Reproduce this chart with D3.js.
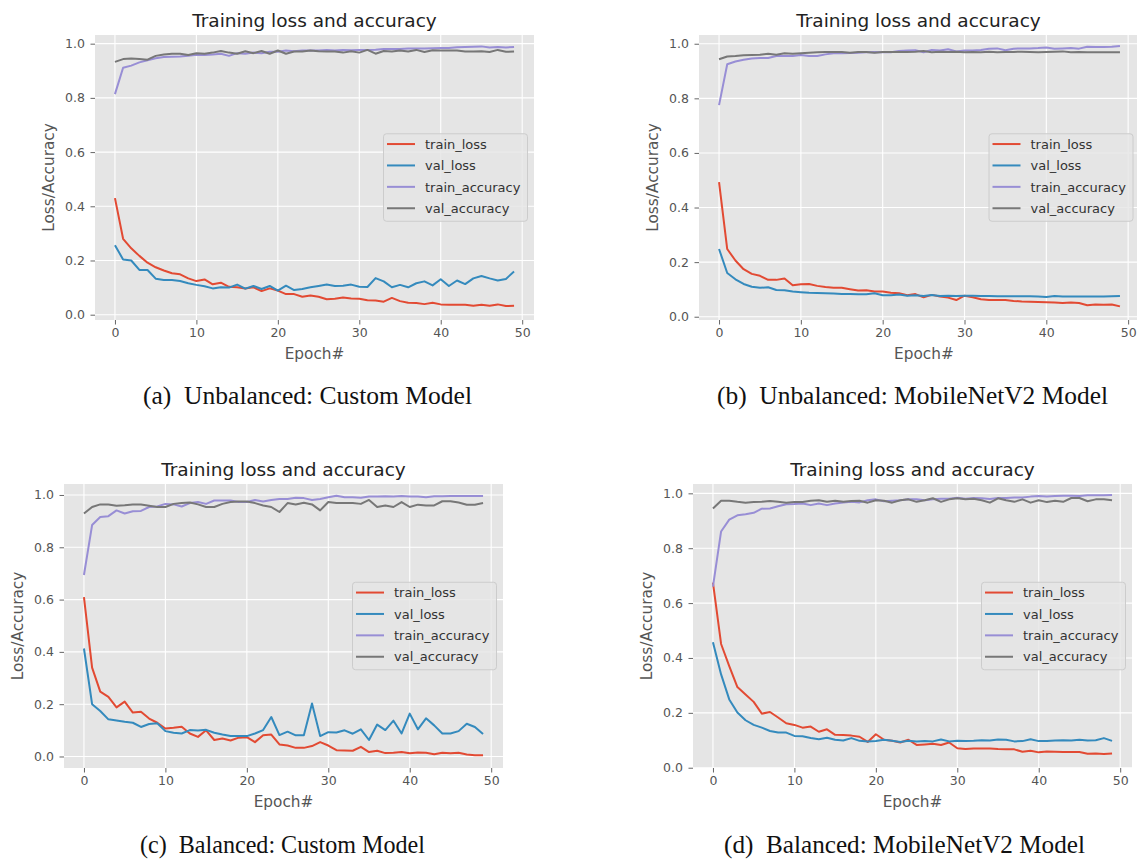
<!DOCTYPE html>
<html>
<head>
<meta charset="utf-8">
<script src="https://cdn.jsdelivr.net/npm/d3@7/dist/d3.min.js"></script>
<style>
  html, body { margin: 0; padding: 0; background: #ffffff; }
  svg { display: block; }
</style>
</head>
<body>
<svg id="chart" width="1137" height="860"></svg>
<script>
// ---------------- DATA ----------------
const seriesNames = ["train_loss", "val_loss", "train_accuracy", "val_accuracy"];
const chartTitle = "Training loss and accuracy";
const xLabel = "Epoch#";
const yLabel = "Loss/Accuracy";
const xTicks = [0, 10, 20, 30, 40, 50];
const yTicks = [0.0, 0.2, 0.4, 0.6, 0.8, 1.0];
const captions = [
  "(a)  Unbalanced: Custom Model",
  "(b)  Unbalanced: MobileNetV2 Model",
  "(c)  Balanced: Custom Model",
  "(d)  Balanced: MobileNetV2 Model"
];

// (a) Unbalanced: Custom Model
const aTrainLoss = [0.43,0.28,0.245,0.217,0.192,0.175,0.163,0.153,0.149,0.134,0.124,0.13,0.112,0.118,0.103,0.101,0.097,0.101,0.087,0.097,0.089,0.076,0.076,0.066,0.071,0.066,0.057,0.059,0.063,0.06,0.059,0.053,0.052,0.048,0.062,0.05,0.044,0.043,0.039,0.044,0.038,0.037,0.037,0.037,0.033,0.037,0.033,0.038,0.032,0.033];
const aValLoss = [0.256,0.204,0.2,0.165,0.165,0.133,0.128,0.128,0.124,0.116,0.11,0.105,0.097,0.101,0.1,0.111,0.096,0.106,0.095,0.106,0.089,0.107,0.091,0.095,0.101,0.106,0.111,0.106,0.107,0.111,0.103,0.102,0.135,0.123,0.101,0.11,0.101,0.116,0.123,0.108,0.131,0.106,0.126,0.113,0.134,0.143,0.134,0.126,0.132,0.159];
const aTrainAcc = [0.814,0.911,0.919,0.931,0.939,0.946,0.951,0.952,0.953,0.955,0.959,0.958,0.96,0.963,0.955,0.965,0.963,0.967,0.965,0.97,0.97,0.975,0.972,0.975,0.975,0.975,0.977,0.975,0.977,0.976,0.977,0.977,0.978,0.98,0.98,0.98,0.982,0.982,0.982,0.983,0.984,0.984,0.987,0.988,0.989,0.99,0.986,0.988,0.986,0.988];
const aValAcc = [0.933,0.943,0.945,0.943,0.941,0.955,0.96,0.963,0.963,0.958,0.965,0.963,0.967,0.973,0.967,0.963,0.972,0.965,0.973,0.963,0.975,0.963,0.971,0.971,0.975,0.972,0.971,0.971,0.967,0.972,0.967,0.977,0.963,0.973,0.971,0.975,0.971,0.977,0.969,0.976,0.975,0.975,0.975,0.971,0.971,0.972,0.969,0.977,0.97,0.971];

// (b) Unbalanced: MobileNetV2 Model
const bTrainLoss = [0.493,0.248,0.206,0.174,0.157,0.15,0.135,0.135,0.14,0.115,0.119,0.12,0.113,0.109,0.106,0.106,0.101,0.096,0.097,0.092,0.092,0.088,0.086,0.079,0.083,0.071,0.08,0.074,0.07,0.061,0.077,0.071,0.064,0.061,0.061,0.061,0.058,0.056,0.055,0.054,0.053,0.052,0.05,0.052,0.05,0.042,0.045,0.044,0.045,0.038];
const bValLoss = [0.248,0.16,0.137,0.12,0.11,0.106,0.108,0.098,0.097,0.092,0.09,0.088,0.087,0.086,0.085,0.083,0.083,0.082,0.082,0.086,0.079,0.079,0.081,0.077,0.079,0.076,0.08,0.076,0.077,0.076,0.077,0.077,0.076,0.076,0.075,0.075,0.075,0.075,0.075,0.074,0.072,0.076,0.074,0.074,0.074,0.074,0.074,0.074,0.075,0.076];
const bTrainAcc = [0.775,0.925,0.935,0.941,0.946,0.948,0.948,0.955,0.955,0.955,0.959,0.955,0.955,0.961,0.965,0.965,0.966,0.967,0.969,0.97,0.969,0.969,0.973,0.975,0.976,0.969,0.977,0.975,0.98,0.972,0.975,0.975,0.977,0.982,0.983,0.976,0.982,0.983,0.983,0.984,0.986,0.982,0.983,0.984,0.982,0.989,0.988,0.988,0.989,0.992];
const bValAcc = [0.943,0.953,0.955,0.958,0.959,0.96,0.963,0.96,0.965,0.963,0.965,0.967,0.969,0.97,0.97,0.97,0.967,0.97,0.97,0.967,0.97,0.97,0.97,0.97,0.971,0.973,0.969,0.971,0.97,0.971,0.969,0.97,0.969,0.971,0.969,0.97,0.97,0.971,0.97,0.969,0.97,0.971,0.972,0.969,0.97,0.969,0.969,0.969,0.969,0.969];

// (c) Balanced: Custom Model
const cTrainLoss = [0.609,0.34,0.248,0.228,0.188,0.21,0.168,0.171,0.145,0.129,0.107,0.11,0.114,0.088,0.075,0.1,0.063,0.069,0.061,0.072,0.074,0.055,0.081,0.084,0.046,0.042,0.033,0.033,0.04,0.055,0.042,0.024,0.023,0.022,0.037,0.017,0.022,0.013,0.014,0.017,0.012,0.015,0.014,0.009,0.014,0.012,0.014,0.008,0.005,0.005];
const cValLoss = [0.413,0.2,0.174,0.142,0.138,0.133,0.129,0.113,0.124,0.127,0.097,0.091,0.088,0.101,0.099,0.102,0.091,0.084,0.078,0.078,0.078,0.088,0.101,0.151,0.082,0.095,0.081,0.081,0.203,0.078,0.093,0.092,0.1,0.087,0.104,0.063,0.122,0.101,0.137,0.088,0.164,0.104,0.146,0.119,0.088,0.088,0.097,0.125,0.113,0.086];
const cTrainAcc = [0.694,0.885,0.916,0.919,0.941,0.929,0.938,0.939,0.954,0.956,0.966,0.964,0.956,0.969,0.973,0.966,0.979,0.979,0.979,0.973,0.973,0.981,0.975,0.981,0.985,0.985,0.989,0.988,0.981,0.985,0.991,0.997,0.991,0.991,0.989,0.994,0.994,0.995,0.994,0.996,0.994,0.994,0.991,0.995,0.995,0.996,0.996,0.996,0.996,0.996];
const cValAcc = [0.929,0.954,0.964,0.964,0.959,0.961,0.964,0.964,0.959,0.954,0.954,0.966,0.969,0.971,0.964,0.954,0.954,0.966,0.973,0.975,0.975,0.969,0.96,0.954,0.935,0.969,0.964,0.97,0.964,0.941,0.973,0.969,0.969,0.969,0.966,0.981,0.954,0.96,0.954,0.973,0.954,0.963,0.96,0.96,0.976,0.976,0.971,0.963,0.963,0.969];

// (d) Balanced: MobileNetV2 Model
const dTrainLoss = [0.675,0.451,0.37,0.294,0.267,0.24,0.197,0.203,0.183,0.162,0.156,0.146,0.15,0.131,0.14,0.12,0.119,0.117,0.113,0.094,0.122,0.102,0.098,0.092,0.102,0.083,0.085,0.087,0.083,0.092,0.071,0.068,0.07,0.07,0.07,0.068,0.067,0.067,0.058,0.062,0.056,0.059,0.058,0.057,0.057,0.057,0.051,0.052,0.05,0.052];
const dValLoss = [0.457,0.34,0.249,0.201,0.173,0.156,0.146,0.134,0.128,0.128,0.116,0.115,0.108,0.104,0.109,0.102,0.099,0.108,0.098,0.096,0.097,0.102,0.098,0.094,0.098,0.096,0.097,0.096,0.103,0.096,0.098,0.097,0.098,0.1,0.099,0.103,0.102,0.096,0.097,0.104,0.097,0.097,0.099,0.1,0.099,0.102,0.099,0.1,0.108,0.098];
const dTrainAcc = [0.66,0.861,0.904,0.92,0.924,0.929,0.944,0.945,0.953,0.96,0.961,0.963,0.957,0.963,0.957,0.963,0.967,0.969,0.967,0.975,0.978,0.971,0.973,0.975,0.978,0.978,0.975,0.978,0.98,0.98,0.984,0.98,0.983,0.982,0.979,0.983,0.983,0.985,0.985,0.988,0.99,0.988,0.99,0.991,0.991,0.99,0.993,0.993,0.993,0.994];
const dValAcc = [0.945,0.973,0.973,0.969,0.966,0.968,0.969,0.972,0.969,0.966,0.968,0.968,0.973,0.975,0.969,0.973,0.969,0.972,0.973,0.966,0.975,0.973,0.966,0.975,0.978,0.969,0.975,0.982,0.969,0.978,0.982,0.978,0.98,0.975,0.966,0.982,0.975,0.969,0.978,0.966,0.975,0.968,0.973,0.969,0.983,0.983,0.971,0.978,0.978,0.975];

// ---------------- LAYOUT / STYLE ----------------
const colors = ["#E24A33", "#348ABD", "#988ED5", "#777777"];
const FONT = "'DejaVu Sans', sans-serif";
const panels = [
  { left: 95,  top: 35,  w: 439, h: 285, yDom: [-0.0196, 1.032], series: [aTrainLoss, aValLoss, aTrainAcc, aValAcc], cap: captions[0], capX: 143, capY: 404, capW: 329 },
  { left: 699, top: 35,  w: 441, h: 285, yDom: [-0.012, 1.032],  series: [bTrainLoss, bValLoss, bTrainAcc, bValAcc], cap: captions[1], capX: 717, capY: 404, capW: 391 },
  { left: 64,  top: 484, w: 439, h: 284, yDom: [-0.044, 1.042],  series: [cTrainLoss, cValLoss, cTrainAcc, cValAcc], cap: captions[2], capX: 140, capY: 853, capW: 285 },
  { left: 693, top: 484, w: 439, h: 284, yDom: [-0.001, 1.034],  series: [dTrainLoss, dValLoss, dTrainAcc, dValAcc], cap: captions[3], capX: 724, capY: 853, capW: 361 }
];

const svg = d3.select("#chart");
svg.append("rect").attr("width", 1137).attr("height", 860).attr("fill", "#ffffff");

panels.forEach((p, i) => {
  const g = svg.append("g").attr("transform", `translate(${p.left},${p.top})`);
  const x = d3.scaleLinear().domain([-2.45, 51.45]).range([0, p.w]);
  const y = d3.scaleLinear().domain(p.yDom).range([p.h, 0]);

  const clipId = "clip" + i;
  g.append("clipPath").attr("id", clipId).append("rect").attr("width", p.w).attr("height", p.h);

  // background
  g.append("rect").attr("width", p.w).attr("height", p.h).attr("fill", "#E5E5E5");

  // grid
  g.append("g").selectAll("line").data(xTicks).join("line")
    .attr("x1", d => x(d)).attr("x2", d => x(d)).attr("y1", 0).attr("y2", p.h)
    .attr("stroke", "#ffffff").attr("stroke-width", 1.1);
  g.append("g").selectAll("line").data(yTicks).join("line")
    .attr("x1", 0).attr("x2", p.w).attr("y1", d => y(d)).attr("y2", d => y(d))
    .attr("stroke", "#ffffff").attr("stroke-width", 1.1);

  // axes
  const xAxis = g.append("g").attr("transform", `translate(0,${p.h})`)
    .call(d3.axisBottom(x).tickValues(xTicks).tickFormat(d3.format("d")).tickSize(4.5).tickPadding(4));
  const yAxis = g.append("g")
    .call(d3.axisLeft(y).tickValues(yTicks).tickFormat(d3.format(".1f")).tickSize(4.5).tickPadding(5.5));
  [xAxis, yAxis].forEach(ax => {
    ax.select(".domain").remove();
    ax.selectAll(".tick line").attr("stroke", "#555555").attr("stroke-width", 0.9);
    ax.selectAll(".tick text").attr("fill", "#555555").style("font-family", FONT).style("font-size", "12.5px");
  });

  // lines
  const line = d3.line().x((d, j) => x(j)).y(d => y(d));
  const lg = g.append("g").attr("clip-path", `url(#${clipId})`);
  p.series.forEach((s, k) => {
    lg.append("path").datum(s).attr("d", line)
      .attr("fill", "none").attr("stroke", colors[k]).attr("stroke-width", 2)
      .attr("stroke-linejoin", "round").attr("stroke-linecap", "butt");
  });

  // title
  g.append("text").attr("x", p.w / 2 + (i === 1 ? -1 : 0)).attr("y", -8.3)
    .attr("text-anchor", "middle").attr("fill", "#222222")
    .style("font-family", FONT).style("font-size", "18.5px").text(chartTitle);

  // axis labels
  g.append("text").attr("x", i === 1 ? (1128.5 + 719.3) / 2 - p.left : p.w / 2).attr("y", p.h + 39)
    .attr("text-anchor", "middle").attr("fill", "#555555")
    .style("font-family", FONT).style("font-size", "15.3px").text(xLabel);
  g.append("text").attr("transform", `translate(-41,${p.h / 2}) rotate(-90)`)
    .attr("text-anchor", "middle").attr("fill", "#555555")
    .style("font-family", FONT).style("font-size", "15.3px").text(yLabel);

  // legend (center right)
  const lw = 144, lh = 87.5;
  const legRight = i === 1 ? 1133 - p.left : p.w - 6.5;
  const leg = g.append("g").attr("transform", `translate(${legRight - lw},${p.h / 2 - lh / 2})`);
  leg.append("rect").attr("width", lw).attr("height", lh).attr("rx", 3)
    .attr("fill", "#E5E5E5").attr("fill-opacity", 0.8)
    .attr("stroke", "#cccccc").attr("stroke-width", 1);
  seriesNames.forEach((name, k) => {
    const ry = 10.3 + k * 21.4;
    leg.append("line").attr("x1", 3.5).attr("x2", 31.5).attr("y1", ry).attr("y2", ry)
      .attr("stroke", colors[k]).attr("stroke-width", 2);
    leg.append("text").attr("x", 41.5).attr("y", ry).attr("dy", "0.36em")
      .attr("fill", "#333333").style("font-family", FONT).style("font-size", "13px").text(name);
  });

  // caption
  svg.append("text").attr("x", p.capX).attr("y", p.capY)
    .attr("textLength", p.capW).attr("lengthAdjust", "spacingAndGlyphs")
    .attr("fill", "#111111").style("white-space", "pre")
    .style("font-family", "'Liberation Serif', serif").style("font-size", "25px")
    .text(p.cap);
});
</script>
</body>
</html>
